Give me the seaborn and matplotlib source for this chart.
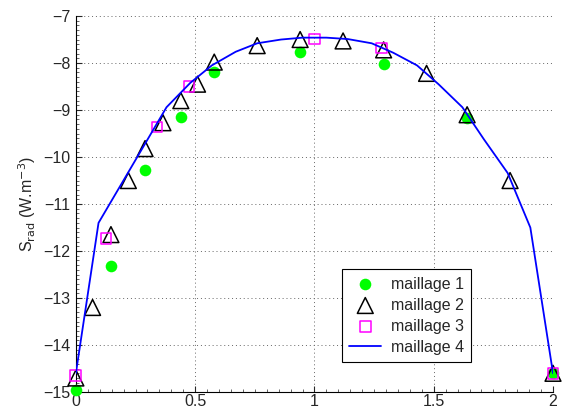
import matplotlib
matplotlib.use("Agg")
import matplotlib.pyplot as plt
import seaborn as sns
from matplotlib.ticker import AutoMinorLocator, MultipleLocator

# maillage 1 (filled green circles)
x1 = [0.0, 0.147, 0.29, 0.44, 0.58, 0.94, 1.29, 1.64, 2.0]
y1 = [-14.96, -12.32, -10.28, -9.15, -8.19, -7.77, -8.02, -9.17, -14.6]

# maillage 2 (open black triangles)
x2 = [0.0, 0.07, 0.147, 0.22, 0.29, 0.365, 0.44, 0.51, 0.58, 0.76,
      0.94, 1.12, 1.29, 1.47, 1.64, 1.82, 2.0]
y2 = [-14.7, -13.2, -11.65, -10.5, -9.82, -9.27, -8.8, -8.45, -7.98, -7.63,
      -7.5, -7.53, -7.72, -8.22, -9.1, -10.5, -14.6]

# maillage 3 (open magenta squares)
x3 = [0.0, 0.126, 0.34, 0.474, 1.0, 1.28, 2.0]
y3 = [-14.64, -11.74, -9.36, -8.5, -7.49, -7.68, -14.6]

# maillage 4 (blue line)
x4 = [0.0, 0.095, 0.38, 0.48, 0.57, 0.67, 0.76, 0.86, 0.95, 1.05, 1.14,
      1.24, 1.33, 1.43, 1.52, 1.62, 1.71, 1.81, 1.905, 2.0]
y4 = [-14.6, -11.4, -8.94, -8.42, -8.05, -7.76, -7.58, -7.5, -7.46, -7.46, -7.49,
      -7.58, -7.78, -8.05, -8.45, -8.94, -9.62, -10.34, -11.5, -14.6]

sns.set_style("white")
plt.rcParams['font.family'] = ['Liberation Sans', 'DejaVu Sans']
plt.rcParams['font.size'] = 11.5

fig = plt.figure(figsize=(5.62, 4.11), dpi=100)
ax = fig.add_axes([0.135, 0.046, 0.849, 0.915])

sns.scatterplot(x=x1, y=y1, ax=ax, marker='o', s=70, color='#00ff00',
                edgecolor='#00ff00', linewidth=0, label='maillage 1',
                clip_on=False, zorder=3)
sns.scatterplot(x=x2, y=y2, ax=ax, marker='^', s=130, facecolor='none',
                edgecolor='black', linewidth=1.1, label='maillage 2',
                clip_on=False, zorder=4)
sns.scatterplot(x=x3, y=y3, ax=ax, marker='s', s=60, facecolor='none',
                edgecolor='#ff00ff', linewidth=1.1, label='maillage 3',
                clip_on=False, zorder=5)
sns.lineplot(x=x4, y=y4, ax=ax, color='#0000ff', linewidth=1.3,
             label='maillage 4', sort=False, zorder=6)

ax.set_xlim(0, 2)
ax.set_ylim(-15, -7)
ax.xaxis.set_major_locator(MultipleLocator(0.5))
ax.yaxis.set_major_locator(MultipleLocator(1))
ax.xaxis.set_minor_locator(AutoMinorLocator(10))
ax.yaxis.set_minor_locator(AutoMinorLocator(10))
ax.set_xticks([0, 0.5, 1, 1.5, 2])
ax.set_xticklabels(['0', '0.5', '1', '1.5', '2'])

ax.grid(True, which='major', linestyle=(0, (1, 3)), color='#666666', linewidth=0.7)
for side in ['top', 'right']:
    ax.spines[side].set_visible(False)
for side in ['left', 'bottom']:
    ax.spines[side].set_color('black')
    ax.spines[side].set_linewidth(0.8)
ax.tick_params(which='major', direction='in', length=4, width=0.8, labelsize=11.5,
               left=True, bottom=True, pad=4)
ax.tick_params(axis='x', which='major', pad=1.5)
ax.tick_params(which='minor', direction='in', length=2, width=0.5,
               left=True, bottom=True)

ax.set_xlabel('')
ax.set_ylabel('S$_{\\rm rad}$ (W.m$^{-3}$)', fontsize=11.5, labelpad=4)

leg = ax.legend(loc='lower left', bbox_to_anchor=(0.558, 0.08), fontsize=11.5,
                frameon=True, fancybox=False, framealpha=1, edgecolor='black',
                borderpad=0.45, labelspacing=0.38, handlelength=2.0,
                handletextpad=0.6, borderaxespad=0)
leg.get_frame().set_linewidth(0.8)

fig.savefig('out.png', dpi=100)
